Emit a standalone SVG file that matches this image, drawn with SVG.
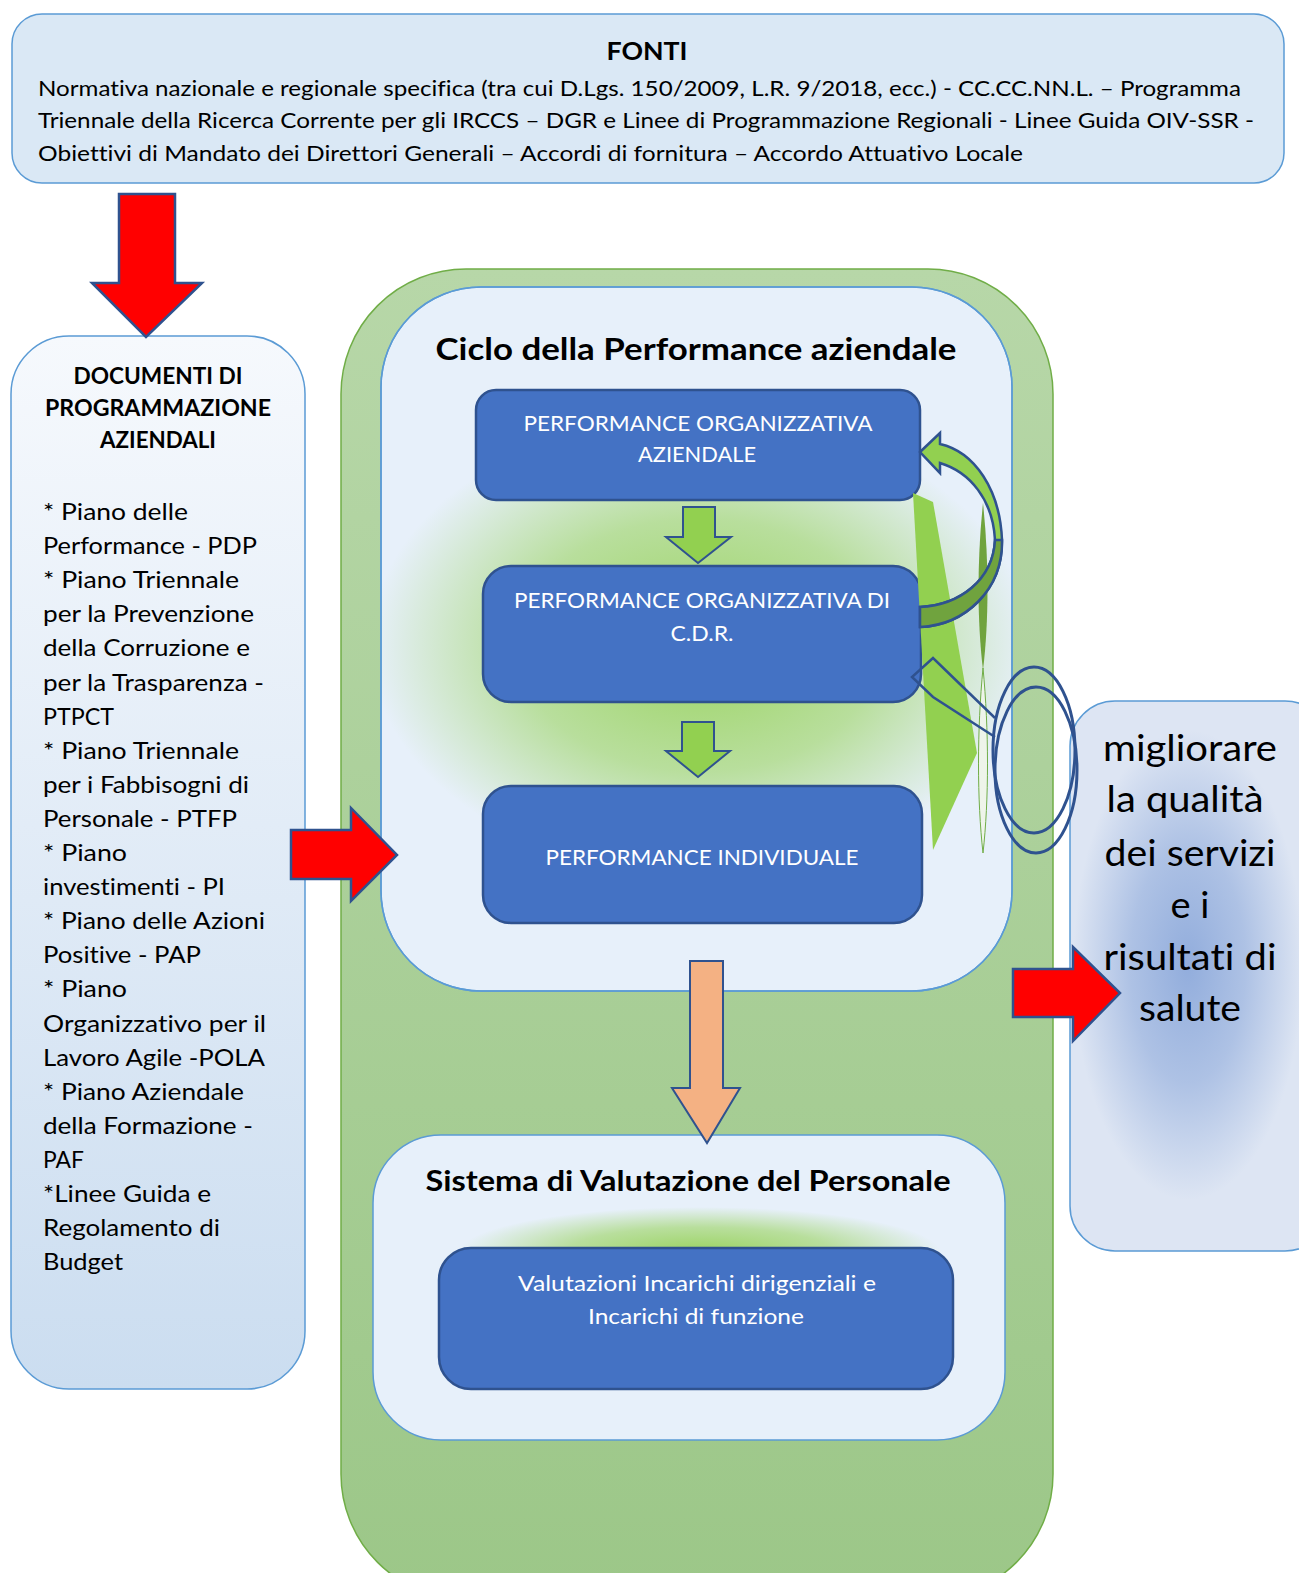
<svg xmlns="http://www.w3.org/2000/svg" width="1299" height="1573" viewBox="0 0 1299 1573">
<defs>
<linearGradient id="gLeft" x1="0" y1="0" x2="0" y2="1"><stop offset="0" stop-color="#f6f9fd"/><stop offset="1" stop-color="#cbddf0"/></linearGradient>
<linearGradient id="gGreen" x1="0" y1="0" x2="0" y2="1"><stop offset="0" stop-color="#b7d7a8"/><stop offset="1" stop-color="#9cc788"/></linearGradient>
<radialGradient id="gGlow" cx="0.5" cy="0.5" r="0.5"><stop offset="0" stop-color="#92d050" stop-opacity="0.9"/><stop offset="0.55" stop-color="#92d050" stop-opacity="0.55"/><stop offset="1" stop-color="#92d050" stop-opacity="0"/></radialGradient>
<radialGradient id="gBlue" cx="0.5" cy="0.5" r="0.5"><stop offset="0" stop-color="#8eaadb" stop-opacity="0.95"/><stop offset="0.5" stop-color="#8eaadb" stop-opacity="0.6"/><stop offset="1" stop-color="#8eaadb" stop-opacity="0"/></radialGradient>
<clipPath id="cCiclo"><rect x="381" y="287" width="631" height="704" rx="100"/></clipPath>
<clipPath id="cSist"><rect x="373" y="1135" width="632" height="305" rx="68"/></clipPath>
<clipPath id="cRight"><rect x="1070" y="701" width="260" height="550" rx="45"/></clipPath>
</defs>
<style>
.t{font-family:Lato,"Open Sans","Liberation Sans",sans-serif;fill:#000;font-variant-ligatures:none}
.b{font-weight:bold}
.w{fill:#fff}
.light{stroke:#5b9bd5;stroke-width:1.5}
.node{fill:#4472c4;stroke:#2f528f;stroke-width:2.5}
.red{fill:#ff0000;stroke:#2f528f;stroke-width:2.5;stroke-linejoin:miter}
.garrow{fill:#92d050;stroke:#2f528f;stroke-width:2}
</style>

<g id="fonti">
<rect x="12" y="14" width="1272" height="169" rx="30" fill="#dae8f5" class="light"/>
<text class="t b" x="647" y="60" font-size="24" text-anchor="middle" textLength="81" lengthAdjust="spacingAndGlyphs">FONTI</text>
<text class="t" x="38" y="96" font-size="22" textLength="1203" lengthAdjust="spacingAndGlyphs">Normativa nazionale e regionale specifica (tra cui D.Lgs. 150/2009, L.R. 9/2018, ecc.) - CC.CC.NN.L. – Programma</text>
<text class="t" x="38" y="128" font-size="22" textLength="1216" lengthAdjust="spacingAndGlyphs">Triennale della Ricerca Corrente per gli IRCCS – DGR e Linee di Programmazione Regionali - Linee Guida OIV-SSR -</text>
<text class="t" x="38" y="161" font-size="22" textLength="985" lengthAdjust="spacingAndGlyphs">Obiettivi di Mandato dei Direttori Generali – Accordi di fornitura – Accordo Attuativo Locale</text>
</g>

<g id="contenitore">
<rect x="341" y="269" width="712" height="1330" rx="125" fill="url(#gGreen)" stroke="#70ad47" stroke-width="1.5"/>
</g>

<g id="documenti">
<rect x="11" y="336" width="294" height="1053" rx="58" fill="url(#gLeft)" class="light"/>
<text class="t b" x="158" y="384" font-size="22" text-anchor="middle" textLength="169" lengthAdjust="spacingAndGlyphs">DOCUMENTI DI</text>
<text class="t b" x="158" y="416" font-size="22" text-anchor="middle" textLength="226" lengthAdjust="spacingAndGlyphs">PROGRAMMAZIONE</text>
<text class="t b" x="158" y="448" font-size="22" text-anchor="middle" textLength="116" lengthAdjust="spacingAndGlyphs">AZIENDALI</text>
<g class="t" font-size="24" xml:space="preserve">
<text x="43" y="520" textLength="145" lengthAdjust="spacingAndGlyphs">* Piano delle</text>
<text x="43" y="554" textLength="214" lengthAdjust="spacingAndGlyphs">Performance - PDP</text>
<text x="43" y="588" textLength="196" lengthAdjust="spacingAndGlyphs">* Piano Triennale</text>
<text x="43" y="622" textLength="211" lengthAdjust="spacingAndGlyphs">per la Prevenzione</text>
<text x="43" y="656" textLength="207" lengthAdjust="spacingAndGlyphs">della Corruzione e</text>
<text x="43" y="691" textLength="221" lengthAdjust="spacingAndGlyphs">per la Trasparenza -</text>
<text x="43" y="725" textLength="71" lengthAdjust="spacingAndGlyphs">PTPCT</text>
<text x="43" y="759" textLength="196" lengthAdjust="spacingAndGlyphs">* Piano Triennale</text>
<text x="43" y="793" textLength="206" lengthAdjust="spacingAndGlyphs">per i Fabbisogni di</text>
<text x="43" y="827" textLength="194" lengthAdjust="spacingAndGlyphs">Personale  - PTFP</text>
<text x="43" y="861" textLength="84" lengthAdjust="spacingAndGlyphs">* Piano</text>
<text x="43" y="895" textLength="182" lengthAdjust="spacingAndGlyphs">investimenti - PI</text>
<text x="43" y="929" textLength="222" lengthAdjust="spacingAndGlyphs">* Piano delle Azioni</text>
<text x="43" y="963" textLength="158" lengthAdjust="spacingAndGlyphs">Positive  - PAP</text>
<text x="43" y="997" textLength="84" lengthAdjust="spacingAndGlyphs">* Piano</text>
<text x="43" y="1032" textLength="223" lengthAdjust="spacingAndGlyphs">Organizzativo  per il</text>
<text x="43" y="1066" textLength="222" lengthAdjust="spacingAndGlyphs">Lavoro Agile  -POLA</text>
<text x="43" y="1100" textLength="201" lengthAdjust="spacingAndGlyphs">* Piano Aziendale</text>
<text x="43" y="1134" textLength="210" lengthAdjust="spacingAndGlyphs">della Formazione -</text>
<text x="43" y="1168" textLength="41" lengthAdjust="spacingAndGlyphs">PAF</text>
<text x="43" y="1202" textLength="168" lengthAdjust="spacingAndGlyphs">*Linee Guida e</text>
<text x="43" y="1236" textLength="177" lengthAdjust="spacingAndGlyphs">Regolamento di</text>
<text x="43" y="1270" textLength="80" lengthAdjust="spacingAndGlyphs">Budget</text>
</g>
</g>

<g id="ciclo">
<rect x="381" y="287" width="631" height="704" rx="100" fill="#e7f0fa" class="light"/>
<ellipse cx="700" cy="645" rx="330" ry="230" fill="url(#gGlow)" clip-path="url(#cCiclo)"/>
<rect x="381" y="287" width="631" height="704" rx="100" fill="none" class="light"/>
<text class="t b" x="696" y="360" font-size="31" text-anchor="middle" textLength="521" lengthAdjust="spacingAndGlyphs">Ciclo della Performance aziendale</text>
</g>

<g id="perf-aziendale">
<rect x="476" y="390" width="444" height="110" rx="20" class="node"/>
<text class="t w" x="698" y="431" font-size="22" text-anchor="middle" textLength="349" lengthAdjust="spacingAndGlyphs">PERFORMANCE ORGANIZZATIVA</text>
<text class="t w" x="697" y="462" font-size="22" text-anchor="middle" textLength="118" lengthAdjust="spacingAndGlyphs">AZIENDALE</text>
</g>

<g id="perf-cdr">
<rect x="483" y="566" width="438" height="136" rx="28" class="node"/>
<text class="t w" x="702" y="608" font-size="22" text-anchor="middle" textLength="376" lengthAdjust="spacingAndGlyphs">PERFORMANCE ORGANIZZATIVA DI</text>
<text class="t w" x="702" y="641" font-size="22" text-anchor="middle" textLength="63" lengthAdjust="spacingAndGlyphs">C.D.R.</text>
</g>

<g id="perf-individuale">
<rect x="483" y="786" width="439" height="137" rx="28" class="node"/>
<text class="t w" x="702" y="865" font-size="22" text-anchor="middle" textLength="313" lengthAdjust="spacingAndGlyphs">PERFORMANCE INDIVIDUALE</text>
</g>

<g id="sistema">
<rect x="373" y="1135" width="632" height="305" rx="68" fill="#e7f0fa" class="light"/>
<ellipse cx="700" cy="1252" rx="240" ry="45" fill="url(#gGlow)" clip-path="url(#cSist)"/>
<text class="t b" x="688" y="1191" font-size="29" text-anchor="middle" textLength="525" lengthAdjust="spacingAndGlyphs">Sistema di Valutazione del Personale</text>
</g>

<g id="valutazioni">
<rect x="439" y="1248" width="514" height="141" rx="32" class="node"/>
<text class="t w" x="697" y="1291" font-size="22" text-anchor="middle" textLength="358" lengthAdjust="spacingAndGlyphs">Valutazioni Incarichi dirigenziali e</text>
<text class="t w" x="696" y="1324" font-size="22" text-anchor="middle" textLength="216" lengthAdjust="spacingAndGlyphs">Incarichi di funzione</text>
</g>

<g id="obiettivo">
<rect x="1070" y="701" width="260" height="550" rx="45" fill="#dde5f3" class="light"/>
<ellipse cx="1188" cy="965" rx="115" ry="235" fill="url(#gBlue)" clip-path="url(#cRight)"/>
<g class="t" font-size="36" text-anchor="middle">
<text x="1190" y="761" textLength="174" lengthAdjust="spacingAndGlyphs">migliorare</text>
<text x="1185" y="812" textLength="157" lengthAdjust="spacingAndGlyphs">la qualità</text>
<text x="1190" y="866" textLength="171" lengthAdjust="spacingAndGlyphs">dei servizi</text>
<text x="1190" y="918" textLength="39" lengthAdjust="spacingAndGlyphs">e i</text>
<text x="1190" y="970" textLength="173" lengthAdjust="spacingAndGlyphs">risultati di</text>
<text x="1190" y="1021" textLength="102" lengthAdjust="spacingAndGlyphs">salute</text>
</g>
</g>

<g id="connectors">
<polygon class="red" points="119,194 175,194 175,283 202,283 146,337 92,283 119,283"/>
<polygon class="red" points="291,830 351,830 351,808 397,855 351,901 351,879 291,879"/>
<polygon class="red" points="1013,969 1073,969 1073,947 1120,993 1073,1041 1073,1017 1013,1017"/>
<polygon points="690,961 723,961 723,1088 740,1088 707,1143 672,1088 690,1088" fill="#f4b183" stroke="#2f528f" stroke-width="2"/>
<polygon class="garrow" points="683,507 715,507 715,537 731,537 698,563 666,537 683,537"/>
<polygon class="garrow" points="682,722 714,722 714,751 730,751 698,777 666,751 682,751"/>
<polygon points="913,493 933,502 977,753 933,850" fill="#92d050"/>
<path d="M983,503 C977,560 977,620 983,670 C989,620 989,560 983,503 Z" fill="#70a33e"/>
<path d="M983,668 C977,730 977,800 983,853 C989,800 989,730 983,668 Z" fill="#eef4ea" stroke="#70ad47" stroke-width="1"/>
<path d="M920,452 L940,433 L940,444 C975,452 1000,490 1002,540 C1003,590 965,625 920,627 L920,607 C960,605 993,580 995,540 C993,500 970,472 940,463 L940,473 Z" fill="#92d050" stroke="#2f528f" stroke-width="2.5" stroke-linejoin="miter"/>
<path d="M1002,540 C1003,590 965,625 920,627 L920,607 C960,605 993,580 995,540 Z" fill="#70a33e" stroke="#2f528f" stroke-width="2.5"/>
<polyline points="995,718 933,658 912,677 933,697 995,737" fill="none" stroke="#2f528f" stroke-width="2.5"/>
<ellipse cx="1034" cy="750" rx="41" ry="83" fill="none" stroke="#2f528f" stroke-width="3"/>
<ellipse cx="1036" cy="770" rx="41" ry="83" fill="none" stroke="#2f528f" stroke-width="3"/>
</g>
</svg>
